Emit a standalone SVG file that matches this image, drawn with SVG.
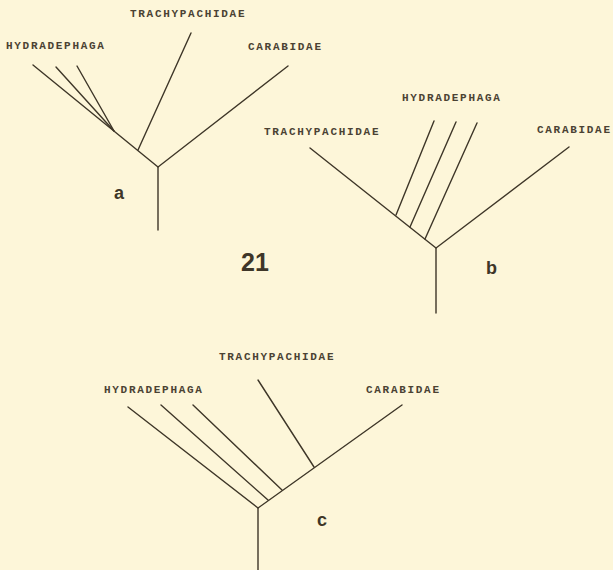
<svg xmlns="http://www.w3.org/2000/svg" width="613" height="570" viewBox="0 0 613 570">
<style>
.bg{fill:#fdf6d9}
.lbl{font-family:"Liberation Mono","DejaVu Sans Mono",monospace;font-size:11px;font-weight:bold;letter-spacing:1.7px;fill:#4a4233}
.fig{font-family:"Liberation Sans",Arial,sans-serif;font-weight:bold;fill:#3e3628}
.ln{stroke:#3e3628;stroke-width:1.4;fill:none;stroke-linecap:round}
</style>
<rect class="bg" x="0" y="0" width="613" height="570"/>
<g id="connectors" class="ln">
  <!-- tree a -->
  <path d="M158,230 L158,167 L288,66"/>
  <path d="M158,167 L33,65"/>
  <path d="M138,150 L191,33"/>
  <path d="M114,131 L56,67"/>
  <path d="M114,131 L77,66"/>
  <!-- tree b -->
  <path d="M436,313 L436,248 L569,147"/>
  <path d="M436,248 L310,148"/>
  <path d="M396,215 L434,121"/>
  <path d="M410,227 L456,122"/>
  <path d="M425,239 L477,123"/>
  <!-- tree c -->
  <path d="M258,570 L258,508 L402,405"/>
  <path d="M258,508 L128,407"/>
  <path d="M268,500 L161,405"/>
  <path d="M282,490 L193,405"/>
  <path d="M314,467 L258,380"/>
</g>
<g id="tree-a">
  <text class="lbl" x="6" y="49">HYDRADEPHAGA</text>
  <text class="lbl" x="130" y="17">TRACHYPACHIDAE</text>
  <text class="lbl" x="248" y="50">CARABIDAE</text>
  <text class="fig" x="114" y="199" font-size="18">a</text>
</g>
<g id="tree-b">
  <text class="lbl" x="402" y="101">HYDRADEPHAGA</text>
  <text class="lbl" x="264" y="135">TRACHYPACHIDAE</text>
  <text class="lbl" x="537" y="133">CARABIDAE</text>
  <text class="fig" x="486" y="274" font-size="18">b</text>
</g>
<g id="figure-number">
  <text class="fig" x="241" y="271" font-size="25">21</text>
</g>
<g id="tree-c">
  <text class="lbl" x="104" y="393">HYDRADEPHAGA</text>
  <text class="lbl" x="219" y="360">TRACHYPACHIDAE</text>
  <text class="lbl" x="366" y="393">CARABIDAE</text>
  <text class="fig" x="317" y="526" font-size="18">c</text>
</g>
</svg>
